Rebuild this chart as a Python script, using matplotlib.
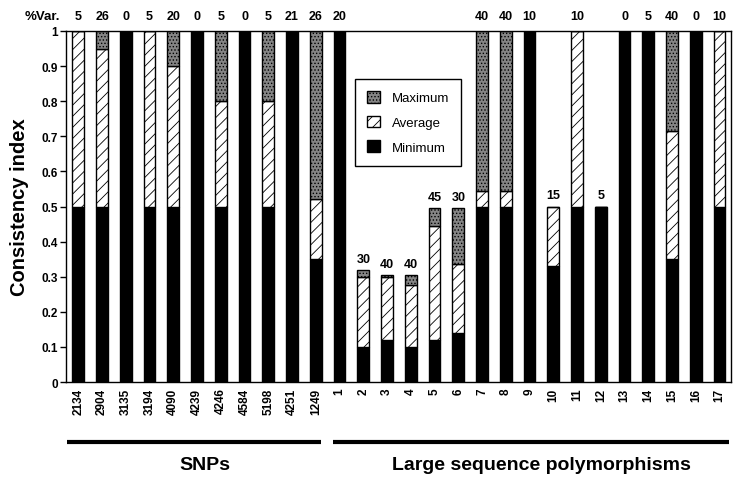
import matplotlib
matplotlib.use('Agg')
import matplotlib.pyplot as plt
from matplotlib.patches import Patch
import matplotlib.transforms as mtransforms

plt.rcParams['font.family'] = ['Liberation Sans', 'DejaVu Sans']
plt.rcParams['hatch.linewidth'] = 0.6

# ---------------------------------------------------------------------------
# Data
# ---------------------------------------------------------------------------
loci = ['2134', '2904', '3135', '3194', '4090', '4239', '4246', '4584', '5198',
        '4251', '1249',
        '1', '2', '3', '4', '5', '6', '7', '8', '9', '10', '11', '12', '13',
        '14', '15', '16', '17']
ci_min = [0.50, 0.50, 1.00, 0.50, 0.50, 1.00, 0.50, 1.00, 0.50, 1.00, 0.35,
          1.00, 0.10, 0.12, 0.10, 0.12, 0.14, 0.50, 0.50, 1.00, 0.33, 0.50,
          0.50, 1.00, 1.00, 0.35, 1.00, 0.50]
ci_avg = [1.00, 0.95, 1.00, 1.00, 0.90, 1.00, 0.80, 1.00, 0.80, 1.00, 0.52,
          1.00, 0.30, 0.30, 0.275, 0.445, 0.335, 0.545, 0.545, 1.00, 0.50,
          1.00, 0.50, 1.00, 1.00, 0.715, 1.00, 1.00]
ci_max = [1.00, 1.00, 1.00, 1.00, 1.00, 1.00, 1.00, 1.00, 1.00, 1.00, 1.00,
          1.00, 0.32, 0.305, 0.305, 0.495, 0.495, 1.00, 1.00, 1.00, 0.50,
          1.00, 0.50, 1.00, 1.00, 1.00, 1.00, 1.00]
pct_var = [5, 26, 0, 5, 20, 0, 5, 0, 5, 21, 26,
           20, 30, 40, 40, 45, 30, 40, 40, 10, 15, 10, 5, 0, 5, 40, 0, 10]

GRAY = '#858585'

# ---------------------------------------------------------------------------
# Plot
# ---------------------------------------------------------------------------
fig = plt.figure(figsize=(7.42, 4.81), dpi=100)
ax = fig.add_axes([0.0889, 0.2037, 0.8962, 0.7298])

x = list(range(len(loci)))
w = 0.5
d_avg = [a - m for a, m in zip(ci_avg, ci_min)]
d_max = [mx - a for mx, a in zip(ci_max, ci_avg)]

ax.bar(x, ci_min, w, color='black', edgecolor='black', linewidth=1)
ax.bar(x, d_avg, w, bottom=ci_min, color='white', edgecolor='black',
       linewidth=1, hatch='///')
ax.bar(x, d_max, w, bottom=ci_avg, color=GRAY, edgecolor='black',
       linewidth=1, hatch='.....')

# %Var. labels above each bar
for xi, top, v in zip(x, ci_max, pct_var):
    off = 11 if top >= 1.0 else 8
    ax.annotate(str(v), (xi, top), xytext=(0, off), textcoords='offset points',
                ha='center', va='center', fontsize=9, fontweight='bold',
                annotation_clip=False)
ax.text(-0.036, 1.043, '%Var.', transform=ax.transAxes, ha='center',
        va='center', fontsize=9.5, fontweight='bold')

ax.set_xlim(-0.52, 27.48)
ax.set_ylim(0, 1)
ax.set_yticks([i / 10 for i in range(11)])
ax.set_yticklabels(['0'] + ['0.%d' % i for i in range(1, 10)] + ['1'],
                   fontsize=8.5, fontweight='bold')
ax.set_xticks(x)
ax.set_xticklabels(loci, rotation=90, fontsize=8.5, fontweight='bold')
ax.tick_params(axis='x', length=0, pad=4)
ax.tick_params(axis='y', length=4.3, width=1, pad=1.5)
ax.set_ylabel('Consistency index', fontsize=14.5, fontweight='bold',
              labelpad=9)
for s in ax.spines.values():
    s.set_linewidth(1)

# group brackets under the tick labels
trans = mtransforms.blended_transform_factory(ax.transData, ax.transAxes)
for x0, x1, xt, name in [(-0.48, 10.22, 5.33, 'SNPs'),
                         (10.72, 27.4, 19.5, 'Large sequence polymorphisms')]:
    ax.plot([x0, x1], [-0.171, -0.171], color='black', linewidth=3,
            transform=trans, clip_on=False, solid_capstyle='butt')
    ax.text(xt, -0.236, name, transform=trans, ha='center', va='center',
            fontsize=14, fontweight='bold')

handles = [Patch(facecolor=GRAY, edgecolor='black', hatch='.....'),
           Patch(facecolor='white', edgecolor='black', hatch='///'),
           Patch(facecolor='black', edgecolor='black')]
leg = ax.legend(handles, ['Maximum', 'Average', 'Minimum'],
                loc='upper left', bbox_to_anchor=(0.4346, 0.863),
                borderaxespad=0, fontsize=9.5, handlelength=1.0,
                handleheight=1.0, handletextpad=0.9, labelspacing=0.85,
                borderpad=0.9, fancybox=False, framealpha=1,
                edgecolor='black')
leg.get_frame().set_linewidth(1)

fig.savefig('out.png', dpi=100)
plt.close(fig)
